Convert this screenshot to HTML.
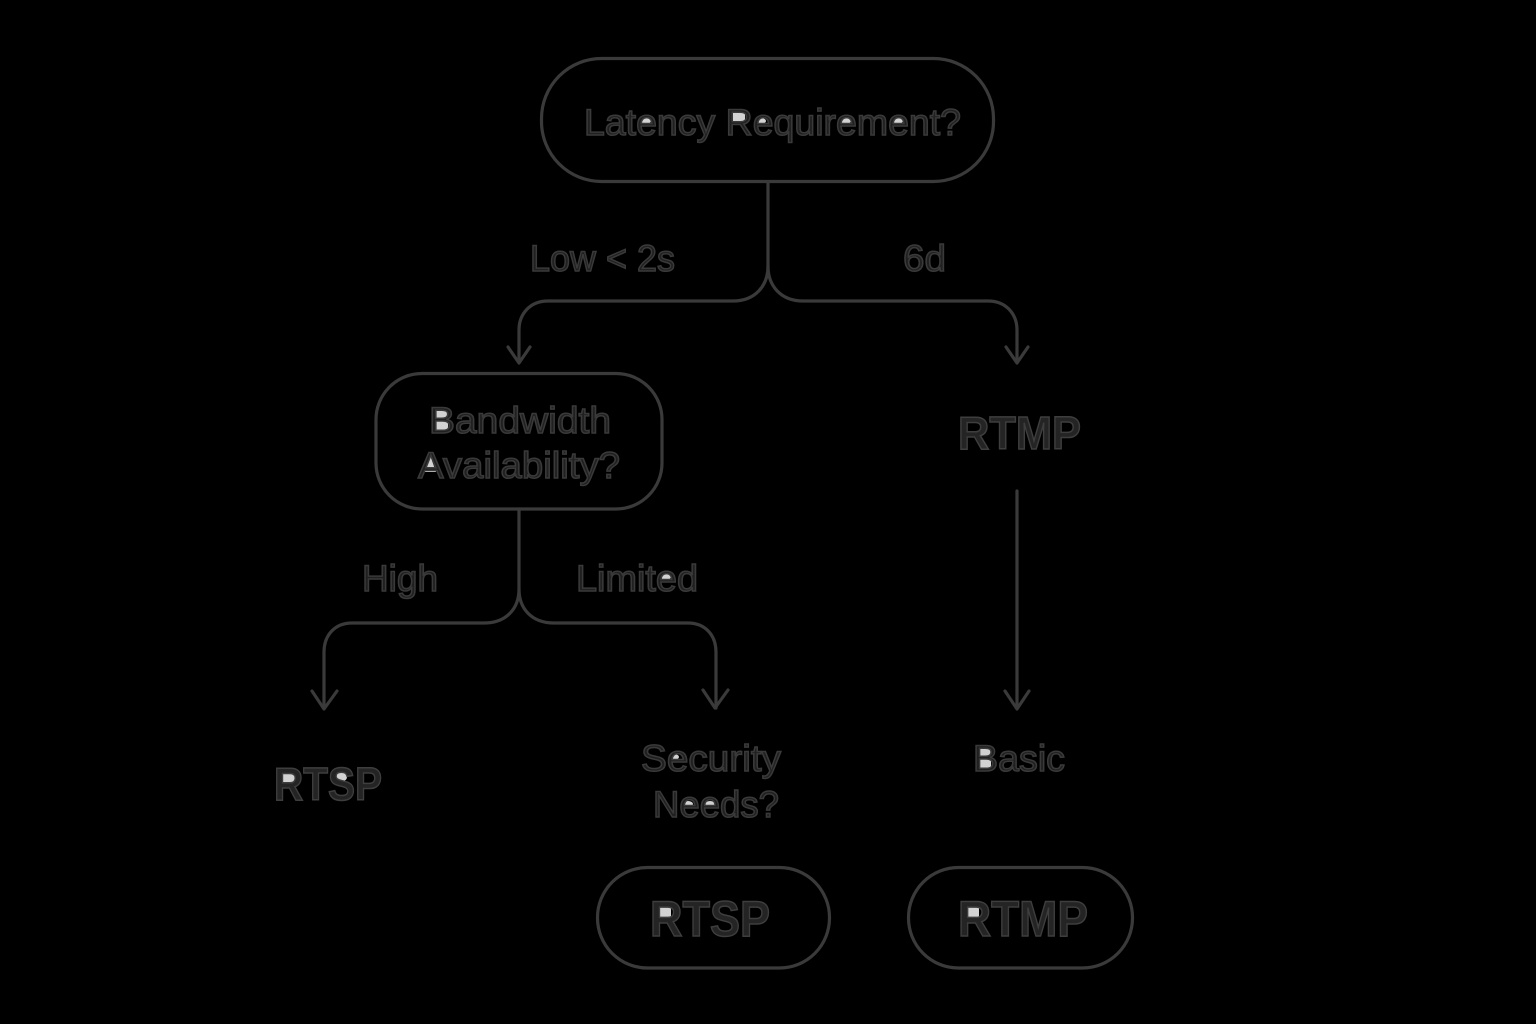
<!DOCTYPE html>
<html lang="en">
<head>
<meta charset="utf-8">
<title>Latency decision diagram</title>
<style>
html,body{margin:0;padding:0;background:#000;width:1536px;height:1024px;overflow:hidden}
svg{display:block}
text{font-family:"Liberation Sans",sans-serif;fill:#202020;stroke:#3a3a3a;stroke-width:1.5px}
.b{font-weight:bold;fill:#242424;stroke:#3e3e3e}
.l{fill:none;stroke:#3a3a3a;stroke-width:3.2;stroke-linecap:round;stroke-linejoin:round}
.w{fill:#d2d2d2;stroke:none}
</style>
</head>
<body>
<svg width="1536" height="1024" viewBox="0 0 1536 1024" xmlns="http://www.w3.org/2000/svg">
<rect width="1536" height="1024" fill="#000"/>

<rect class="l" x="541.5" y="58.5" width="452" height="123" rx="60" ry="60"/>
<rect class="l" x="376" y="373.5" width="286" height="135.5" rx="46" ry="46"/>
<rect class="l" x="597.5" y="867.5" width="232" height="100.5" rx="50" ry="50"/>
<rect class="l" x="908.5" y="867.5" width="224" height="100.5" rx="50" ry="50"/>

<path class="l" d="M768 182V266C768 286 755 301 733 301H548C530 301 519 314 519 330V362"/>
<path class="l" d="M768 266C768 286 781 301 803 301H988C1006 301 1017 314 1017 330V362"/>
<path class="l" d="M508 347L519 363L530 347"/>
<path class="l" d="M1006 347L1017 363L1028 347"/>

<path class="l" d="M519 509V589C519 609 506 623 484 623H352C335 623 324 635 324 652V708"/>
<path class="l" d="M519 589C519 609 532 623 554 623H688C705 623 716 635 716 652V708"/>
<path class="l" d="M312 691L324 709L337 691"/>
<path class="l" d="M703 690L715 708L728 690"/>

<path class="l" d="M1017 491V708"/>
<path class="l" d="M1005 691L1017 709L1029 691"/>

<ellipse class="w" cx="646" cy="121" rx="5" ry="3"/>
<ellipse class="w" cx="761" cy="121" rx="5" ry="3"/>
<ellipse class="w" cx="846" cy="121" rx="5" ry="3"/>
<ellipse class="w" cx="898" cy="121" rx="5" ry="3"/>
<rect class="w" x="733" y="111" width="12" height="12"/>
<rect class="w" x="436" y="408" width="12" height="24"/>
<path class="w" d="M429 452L436 472H422Z"/>
<ellipse class="w" cx="666" cy="577" rx="5" ry="3"/>
<rect class="w" x="281" y="772" width="14" height="12"/>
<ellipse class="w" cx="340" cy="777" rx="7" ry="5"/>
<ellipse class="w" cx="674" cy="757" rx="5" ry="3"/>
<ellipse class="w" cx="688" cy="804" rx="5" ry="3"/>
<ellipse class="w" cx="710" cy="804" rx="5" ry="3"/>
<rect class="w" x="979" y="746" width="12" height="24"/>
<rect class="w" x="657" y="905" width="14" height="14"/>
<rect class="w" x="965" y="905" width="14" height="14"/>

<text x="584" y="135" font-size="37" textLength="377" lengthAdjust="spacingAndGlyphs">Latency Requirement?</text>
<text x="530" y="271" font-size="37" textLength="145" lengthAdjust="spacingAndGlyphs">Low &lt; 2s</text>
<text x="903" y="271" font-size="37" textLength="43" lengthAdjust="spacingAndGlyphs">6d</text>
<text x="429" y="433" font-size="37" textLength="182" lengthAdjust="spacingAndGlyphs">Bandwidth</text>
<text x="418" y="478" font-size="37" textLength="202" lengthAdjust="spacingAndGlyphs">Availability?</text>
<text class="b" x="958" y="449" font-size="46" textLength="123" lengthAdjust="spacingAndGlyphs">RTMP</text>
<text x="362" y="591" font-size="37" textLength="76" lengthAdjust="spacingAndGlyphs">High</text>
<text x="576" y="591" font-size="37" textLength="122" lengthAdjust="spacingAndGlyphs">Limited</text>
<text class="b" x="274" y="800" font-size="46" textLength="108" lengthAdjust="spacingAndGlyphs">RTSP</text>
<text x="641" y="771" font-size="37" textLength="140" lengthAdjust="spacingAndGlyphs">Security</text>
<text x="653" y="817" font-size="37" textLength="126" lengthAdjust="spacingAndGlyphs">Needs?</text>
<text x="973" y="771" font-size="37" textLength="92" lengthAdjust="spacingAndGlyphs">Basic</text>
<text class="b" x="650" y="936" font-size="50" textLength="120" lengthAdjust="spacingAndGlyphs">RTSP</text>
<text class="b" x="958" y="936" font-size="50" textLength="130" lengthAdjust="spacingAndGlyphs">RTMP</text>
</svg>
</body>
</html>
